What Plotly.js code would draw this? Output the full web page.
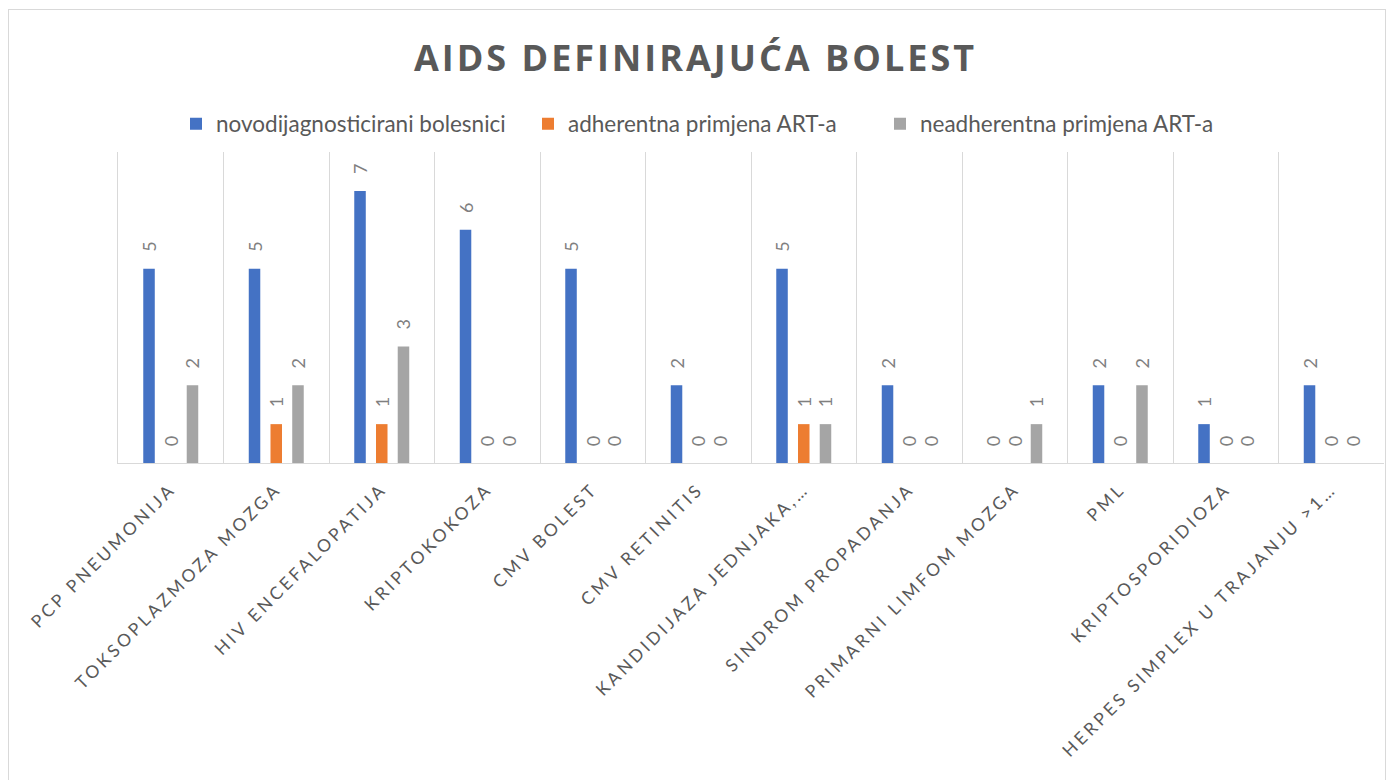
<!DOCTYPE html>
<html>
<head>
<meta charset="utf-8">
<script src="https://cdn.plot.ly/plotly-3.0.1.min.js"></script>
<style>
  html, body { margin: 0; padding: 0; background: #fff; }
  #wrap { position: relative; width: 1391px; height: 780px; }
  #chart { width: 1391px; height: 780px; }
  #frame { position: absolute; left: 8px; top: 9px; width: 1376px; height: 790px;
           border: 1px solid #d9d9d9; pointer-events: none; }
  .gtitle { letter-spacing: 3px; }
  .xtick text { letter-spacing: 3.2px; }
</style>
</head>
<body>
<div id="wrap">
  <div id="chart"></div>
  <div id="frame"></div>
</div>
<script>
const categories = [
  "PCP PNEUMONIJA",
  "TOKSOPLAZMOZA MOZGA",
  "HIV ENCEFALOPATIJA",
  "KRIPTOKOKOZA",
  "CMV BOLEST",
  "CMV RETINITIS",
  "KANDIDIJAZA JEDNJAKA,…",
  "SINDROM PROPADANJA",
  "PRIMARNI LIMFOM MOZGA",
  "PML",
  "KRIPTOSPORIDIOZA",
  "HERPES SIMPLEX U TRAJANJU >1…"
];
const seriesNames = ["novodijagnosticirani bolesnici", "adherentna primjena ART-a", "neadherentna primjena ART-a"];
const novodijagnosticirani = [5, 5, 7, 6, 5, 2, 5, 2, 0, 2, 1, 2];
const adherentna = [0, 1, 1, 0, 0, 0, 1, 0, 0, 0, 0, 0];
const neadherentna = [2, 2, 3, 0, 0, 0, 1, 0, 1, 2, 0, 0];
const colors = ["#4472C4", "#ED7D31", "#A5A5A5"];

const seriesValues = [novodijagnosticirani, adherentna, neadherentna];
const font = "Lato, 'Open Sans', sans-serif";

const traces = seriesValues.map((vals, i) => ({
  type: "bar",
  name: seriesNames[i],
  x: categories,
  y: vals,
  marker: { color: colors[i] },
  text: vals.map(String),
  texttemplate: "\u00a0\u00a0\u00a0%{text}",
  textposition: "outside",
  textangle: -90,
  constraintext: "none",
  textfont: { family: font, size: 18, color: "#7f7f7f" },
  cliponaxis: false,
  hoverinfo: "x+y+name"
}));

const layout = {
  width: 1391,
  height: 780,
  margin: { l: 118, r: 7, t: 152, b: 317 },
  paper_bgcolor: "#ffffff",
  plot_bgcolor: "#ffffff",
  barmode: "group",
  bargap: 0.382,
  bargroupgap: 0.47,
  title: {
    text: "AIDS DEFINIRAJUĆA BOLEST",
    x: 0.5, xref: "container", xanchor: "center",
    y: 1 - 58 / 780, yref: "container", yanchor: "middle",
    font: { family: "'Open Sans', sans-serif", size: 36, weight: 700, color: "#595959" }
  },
  showlegend: true,
  legend: {
    orientation: "h",
    x: 176 / 1391, xref: "container", xanchor: "left",
    y: 1 - 124 / 780, yref: "container", yanchor: "middle",
    font: { family: font, size: 22.5, color: "#595959" },
    itemwidth: 30,
    entrywidth: 307,
    entrywidthmode: "pixels",
    traceorder: "normal"
  },
  xaxis: {
    type: "category",
    tickson: "boundaries",
    showgrid: true,
    gridcolor: "#d9d9d9",
    gridwidth: 1,
    showline: true,
    linecolor: "#d9d9d9",
    linewidth: 1,
    ticks: "",
    tickangle: -45,
    ticklabelstandoff: 8,
    tickfont: { family: font, size: 17.5, color: "#595959" },
    automargin: false,
    fixedrange: true
  },
  yaxis: {
    range: [0, 8],
    showgrid: false,
    zeroline: false,
    showticklabels: false,
    showline: true,
    linecolor: "#d9d9d9",
    linewidth: 1,
    ticks: "",
    fixedrange: true
  }
};

Plotly.newPlot("chart", traces, layout, { displayModeBar: false, staticPlot: false });
</script>
</body>
</html>
